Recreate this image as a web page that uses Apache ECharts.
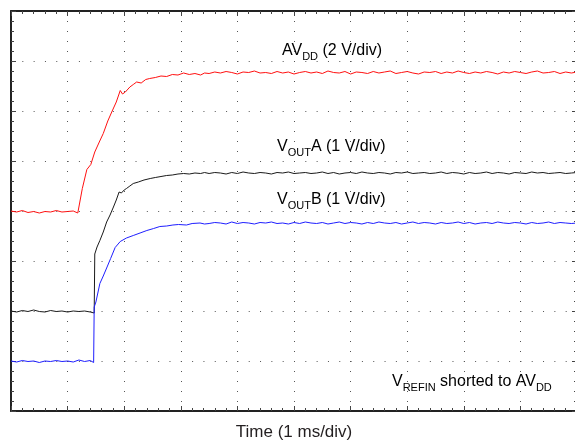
<!DOCTYPE html>
<html>
<head>
<meta charset="utf-8">
<script src="https://cdn.jsdelivr.net/npm/echarts@6/dist/echarts.min.js"></script>
<style>
  html, body { margin: 0; padding: 0; background: #fff; overflow: hidden; }
  #chart { width: 575px; height: 441px; }
</style>
</head>
<body>
<div id="chart"></div>
<script>
// time in ms (1 ms/div), amplitude in divisions (0..8 on screen)
// start-up part of each trace: [time, div]
const avddHead = [
  [0, 4.00], [0.1, 3.98], [0.2, 4.01], [0.3, 3.97], [0.4, 3.99], [0.5, 3.96], [0.6, 3.99],
  [0.7, 3.98], [0.8, 4.01], [0.9, 3.98], [1.0, 3.99], [1.1, 4.00], [1.18, 3.96],
  [1.26, 4.45], [1.34, 4.83], [1.41, 4.93], [1.48, 5.18], [1.56, 5.38], [1.63, 5.55],
  [1.71, 5.80], [1.78, 5.98], [1.86, 6.18], [1.93, 6.41], [1.97, 6.34], [2.02, 6.38],
  [2.10, 6.48], [2.16, 6.53], [2.22, 6.58], [2.30, 6.56], [2.38, 6.63], [2.45, 6.65],
  [2.55, 6.67], [2.65, 6.70], [2.75, 6.69], [2.85, 6.73], [2.95, 6.72], [3.05, 6.76],
  [3.15, 6.73], [3.25, 6.75], [3.35, 6.72], [3.42, 6.76]
]
const voutAHead = [
  [0, 2.00], [0.1, 1.98], [0.2, 2.01], [0.3, 1.99], [0.4, 2.02], [0.5, 1.99], [0.6, 1.98],
  [0.7, 2.01], [0.8, 1.99], [0.9, 2.00], [1.0, 1.98], [1.1, 2.00], [1.2, 1.99], [1.3, 2.00],
  [1.4, 1.98], [1.47, 1.96], [1.48, 3.14], [1.52, 3.28], [1.57, 3.41], [1.63, 3.58],
  [1.69, 3.78], [1.75, 3.92], [1.81, 4.08], [1.86, 4.22], [1.91, 4.38], [1.95, 4.36],
  [2.00, 4.42], [2.04, 4.45], [2.10, 4.50], [2.16, 4.55], [2.25, 4.58], [2.35, 4.62],
  [2.46, 4.65], [2.55, 4.67], [2.65, 4.69], [2.75, 4.71], [2.85, 4.72], [2.95, 4.74],
  [3.05, 4.75], [3.15, 4.74], [3.25, 4.76], [3.35, 4.75], [3.42, 4.77]
]
const voutBHead = [
  [0, 1.00], [0.1, 0.98], [0.2, 1.01], [0.3, 0.99], [0.4, 1.00], [0.5, 0.97], [0.6, 1.00],
  [0.7, 0.99], [0.8, 1.01], [0.9, 0.99], [1.0, 1.00], [1.1, 0.98], [1.2, 1.02], [1.3, 0.99],
  [1.4, 1.01], [1.46, 0.97], [1.47, 2.08], [1.50, 2.18], [1.57, 2.55], [1.63, 2.70],
  [1.69, 2.86], [1.76, 3.05], [1.84, 3.27], [1.93, 3.39], [2.04, 3.46], [2.16, 3.51],
  [2.28, 3.56], [2.40, 3.61], [2.52, 3.65], [2.63, 3.69], [2.75, 3.70], [2.86, 3.72],
  [2.96, 3.73], [3.10, 3.72], [3.20, 3.75], [3.34, 3.76], [3.42, 3.74]
]

// settled part, shared time base
const tailTimes = [
  3.5, 3.6, 3.7, 3.8, 3.9, 4.0, 4.1, 4.2, 4.3, 4.4,
  4.5, 4.6, 4.7, 4.8, 4.9, 5.0, 5.1, 5.2, 5.3, 5.4,
  5.5, 5.6, 5.7, 5.8, 5.9, 6.0, 6.1, 6.2, 6.3, 6.4,
  6.5, 6.6, 6.7, 6.8, 6.9, 7.0, 7.1, 7.2, 7.3, 7.4,
  7.5, 7.6, 7.7, 7.8, 7.9, 8.0, 8.1, 8.2, 8.3, 8.4,
  8.5, 8.6, 8.7, 8.8, 8.9, 9.0, 9.1, 9.2, 9.3, 9.4,
  9.5, 9.6, 9.7, 9.8, 9.9, 10.0
]
const avddTail = [
  6.75, 6.78, 6.76, 6.79, 6.77, 6.74, 6.78, 6.77, 6.80, 6.76,
  6.77, 6.75, 6.79, 6.76, 6.78, 6.74, 6.77, 6.79, 6.76, 6.78,
  6.75, 6.80, 6.77, 6.76, 6.79, 6.74, 6.78, 6.77, 6.75, 6.79,
  6.76, 6.78, 6.80, 6.75, 6.77, 6.79, 6.76, 6.74, 6.78, 6.77,
  6.79, 6.75, 6.78, 6.76, 6.80, 6.77, 6.75, 6.78, 6.76, 6.79,
  6.77, 6.74, 6.78, 6.76, 6.79, 6.77, 6.75, 6.78, 6.80, 6.76,
  6.77, 6.79, 6.75, 6.78, 6.76, 6.78
]
const voutATail = [
  4.75, 4.77, 4.76, 4.74, 4.77, 4.75, 4.78, 4.76, 4.75, 4.77,
  4.76, 4.74, 4.77, 4.76, 4.78, 4.75, 4.76, 4.77, 4.75, 4.76,
  4.78, 4.75, 4.77, 4.74, 4.76, 4.77, 4.75, 4.78, 4.76, 4.75,
  4.77, 4.76, 4.74, 4.77, 4.76, 4.78, 4.75, 4.76, 4.77, 4.75,
  4.76, 4.78, 4.75, 4.77, 4.76, 4.74, 4.77, 4.75, 4.76, 4.78,
  4.75, 4.77, 4.76, 4.74, 4.77, 4.76, 4.75, 4.78, 4.76, 4.77,
  4.75, 4.76, 4.77, 4.75, 4.76, 4.77
]
const voutBTail = [
  3.75, 3.77, 3.76, 3.74, 3.78, 3.75, 3.77, 3.76, 3.74, 3.77,
  3.76, 3.78, 3.75, 3.76, 3.74, 3.77, 3.75, 3.78, 3.76, 3.75,
  3.77, 3.74, 3.76, 3.78, 3.75, 3.77, 3.76, 3.74, 3.77, 3.75,
  3.78, 3.76, 3.75, 3.77, 3.74, 3.76, 3.78, 3.75, 3.77, 3.76,
  3.74, 3.77, 3.75, 3.76, 3.78, 3.75, 3.77, 3.74, 3.76, 3.77,
  3.75, 3.78, 3.76, 3.75, 3.77, 3.76, 3.74, 3.77, 3.75, 3.76,
  3.78, 3.75, 3.77, 3.76, 3.75, 3.76
]

const buildTrace = (head, tail) => head.concat(tailTimes.map((t, i) => [t, tail[i]]))

const textColor = '#231f20'
const tickColor = '#444'
const font = 'Arial, "Liberation Sans", sans-serif'

// 文字样式（下标）
const rich = {
  m: { fontSize: 16, lineHeight: 22, fontFamily: font, color: textColor },
  s: { fontSize: 11, lineHeight: 12, verticalAlign: 'bottom', fontFamily: font, color: textColor }
}
const label = (x, y, text) => ({
  type: 'text', x: x, y: y, silent: true,
  style: { text: text, rich: rich, textAlign: 'left', textVerticalAlign: 'top' }
})

// 每个轴单独生成配置，避免共享对象
const makeAxis = (extra, showLine) => Object.assign({
  type: 'value',
  axisLabel: { show: false },
  axisLine: { show: showLine, onZero: false, lineStyle: { color: '#222', width: 2 } },
  axisTick: { show: true, inside: true, length: 5, lineStyle: { color: tickColor } },
  minorTick: { show: true, splitNumber: 5, length: 3, lineStyle: { color: tickColor } },
  splitLine: { show: false }
}, extra)

const chart = echarts.init(document.getElementById('chart'))
chart.setOption({
  animation: false,
  backgroundColor: '#fff',
  grid: { left: 11, top: 11, width: 566, height: 400, outerBoundsMode: 'none' },
  xAxis: [
    makeAxis({
      min: 0, max: 10, interval: 1, position: 'bottom',
      name: 'Time (1 ms/div)', nameLocation: 'middle', nameGap: 13,
      nameTextStyle: { fontSize: 17, fontFamily: font, color: textColor },
      splitLine: { show: true, lineStyle: { color: '#555', width: 1, type: [1, 9] } }
    }, true),
    makeAxis({ min: 0, max: 10, interval: 1, position: 'top' }, true)
  ],
  yAxis: [
    makeAxis({
      min: 0, max: 8, interval: 1, position: 'left',
      splitLine: { show: true, lineStyle: { color: '#555', width: 1, type: [1, 10.32] } }
    }, true),
    makeAxis({ min: 0, max: 8, interval: 1, position: 'right' }, false)
  ],
  series: [
    {
      name: 'AVDD', type: 'line', showSymbol: false, data: buildTrace(avddHead, avddTail),
      lineStyle: { color: '#ff1010', width: 1 }
    },
    {
      name: 'VOUTA', type: 'line', showSymbol: false, data: buildTrace(voutAHead, voutATail),
      lineStyle: { color: '#1a1a1a', width: 1 }
    },
    {
      name: 'VOUTB', type: 'line', showSymbol: false, data: buildTrace(voutBHead, voutBTail),
      lineStyle: { color: '#1e1eff', width: 1 }
    }
  ],
  graphic: [
    label(282, 40, '{m|AV}{s|DD}{m| (2 V/div)}'),
    label(277, 136, '{m|V}{s|OUT}{m|A (1 V/div)}'),
    label(277, 189, '{m|V}{s|OUT}{m|B (1 V/div)}'),
    label(392, 371, '{m|V}{s|REFIN}{m| shorted to AV}{s|DD}')
  ]
})
</script>
</body>
</html>
